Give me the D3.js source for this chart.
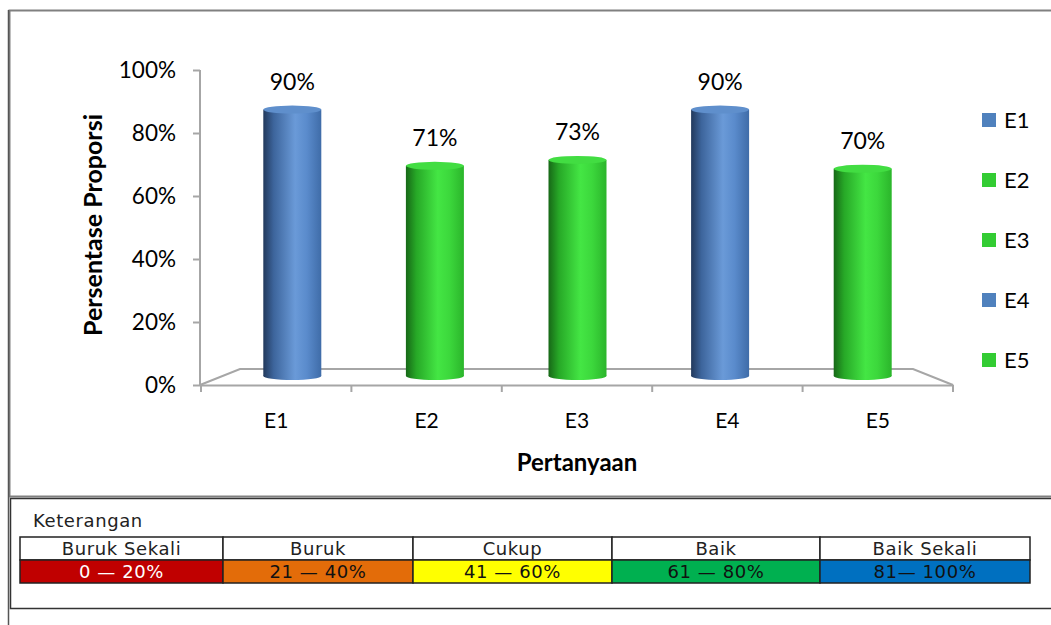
<!DOCTYPE html>
<html>
<head>
<meta charset="utf-8">
<script src="https://cdn.jsdelivr.net/npm/d3@7"></script>
<style>
  body { margin: 0; background: #fff; }
  svg { display: block; }
</style>
</head>
<body>
<svg id="chart"></svg>
<script>
// data
const categories = ['E1', 'E2', 'E3', 'E4', 'E5'];
const values = [0.90, 0.71, 0.73, 0.90, 0.70];
const valueLabels = ['90%', '71%', '73%', '90%', '70%'];
const barColors = ['blue', 'green', 'green', 'blue', 'green'];
const yTicks = [0, 0.2, 0.4, 0.6, 0.8, 1];

const ketLabels = ['Buruk Sekali', 'Buruk', 'Cukup', 'Baik', 'Baik Sekali'];
const ketRanges = ['0 \u2014 20%', '21 \u2014 40%', '41 \u2014 60%', '61 \u2014 80%', '81\u2014 100%'];
const ketColors = ['#c00000', '#e36c09', '#ffff00', '#00b050', '#0070c0'];
const ketText = ['#fff', '#111', '#111', '#111', '#111'];

// set up constants
const width = 1051;
const height = 625;
const font = 'Lato, Carlito, Calibri, sans-serif';
const ketFont = 'DejaVu Sans, sans-serif';

const svg = d3.select('#chart')
  .attr('width', width)
  .attr('height', height);

// chart box
svg.append('rect')
  .attr('x', 9.5).attr('y', 10.5)
  .attr('width', 1060).attr('height', 486)
  .attr('fill', '#fff').attr('stroke', '#808080').attr('stroke-width', 2);
svg.append('line')
  .attr('x1', 8.5).attr('x2', 8.5).attr('y1', 10).attr('y2', 625)
  .attr('stroke', '#555').attr('stroke-width', 1.5);

// scales
const yScale = d3.scaleLinear().domain([0, 1]).range([385, 70]);
const xScale = d3.scaleBand().domain(categories).range([201, 953]);
// bars sit on the back of the 3D floor
const xBack = d3.scaleBand().domain(categories).range([221, 934]);
const yBack = d3.scaleLinear().domain([0, 1]).range([376, 80]);

// gradients
const defs = svg.append('defs');
const grads = {
  blue: [['0%', '#22395c'], ['18%', '#3d659c'], ['55%', '#6a9ad8'], ['75%', '#5a8bcc'], ['100%', '#3f6ca8']],
  green: [['0%', '#176817'], ['18%', '#27a827'], ['55%', '#44e644'], ['75%', '#3cd83c'], ['100%', '#2bb52b']]
};
Object.entries(grads).forEach(([k, stops]) => {
  const g = defs.append('linearGradient').attr('id', 'g-' + k)
    .attr('x1', 0).attr('x2', 1).attr('y1', 0).attr('y2', 0);
  stops.forEach(s => g.append('stop').attr('offset', s[0]).attr('stop-color', s[1]));
});
const topColor = { blue: '#5f8fcc', green: '#42dd42' };

// floor
const gray = '#a6a6a6';
svg.append('path')
  .attr('d', `M200,${yScale(0)} L240,369 L913,369 L953,${yScale(0)}`)
  .attr('fill', 'none').attr('stroke', gray).attr('stroke-width', 2);

// axes
const yAxis = d3.axisLeft(yScale).tickValues(yTicks).tickFormat(d3.format('.0%')).tickSize(7).tickPadding(17);
const gy = svg.append('g').attr('transform', 'translate(200,0)').call(yAxis);
const xAxis = d3.axisBottom(xScale).tickSize(0).tickPadding(28);
const gx = svg.append('g').attr('transform', `translate(0,${yScale(0)})`).call(xAxis);

[gy, gx].forEach(g => {
  g.selectAll('path, line').attr('stroke', gray).attr('stroke-width', 2);
  g.selectAll('text').attr('font-family', font).attr('fill', '#000');
});
gy.selectAll('text').attr('font-size', 22.5);
gx.selectAll('text').attr('font-size', 21);
gy.select('.domain').attr('d', `M-0,${yScale(1)}V${yScale(0)}`);

// x ticks at band edges
svg.append('g').selectAll('line')
  .data(categories.concat(['end']))
  .join('line')
  .attr('x1', (d, i) => i < categories.length ? xScale(d) : xScale.range()[1])
  .attr('x2', (d, i) => i < categories.length ? xScale(d) : xScale.range()[1])
  .attr('y1', yScale(0)).attr('y2', yScale(0) + 7)
  .attr('stroke', gray).attr('stroke-width', 2);

// cylinders
const bw = 58;
const ry = 4;
const bars = svg.append('g').selectAll('g')
  .data(categories.map((c, i) => ({ c, v: values[i], label: valueLabels[i], color: barColors[i] })))
  .join('g')
  .attr('transform', d => `translate(${xBack(d.c) + xBack.bandwidth() / 2},0)`);

bars.append('ellipse')
  .attr('cx', 0).attr('cy', yBack(0)).attr('rx', bw / 2).attr('ry', ry)
  .attr('fill', d => `url(#g-${d.color})`);
bars.append('rect')
  .attr('x', -bw / 2).attr('y', d => yBack(d.v))
  .attr('width', bw).attr('height', d => yBack(0) - yBack(d.v))
  .attr('fill', d => `url(#g-${d.color})`);
bars.append('ellipse')
  .attr('cx', 0).attr('cy', d => yBack(d.v)).attr('rx', bw / 2).attr('ry', ry)
  .attr('fill', d => topColor[d.color]);
bars.append('text')
  .attr('x', 0).attr('y', d => yBack(d.v) - 20)
  .attr('text-anchor', 'middle')
  .attr('font-family', font).attr('font-size', 23).attr('fill', '#000')
  .text(d => d.label);

// axis titles
svg.append('text')
  .attr('transform', 'translate(102,225) rotate(-90)')
  .attr('text-anchor', 'middle')
  .attr('font-family', font).attr('font-size', 25).attr('font-weight', 'bold')
  .text('Persentase Proporsi');
svg.append('text')
  .attr('x', 577).attr('y', 471)
  .attr('text-anchor', 'middle')
  .attr('font-family', font).attr('font-size', 24).attr('font-weight', 'bold')
  .text('Pertanyaan');

// legend
const legend = svg.append('g').selectAll('g')
  .data(categories.map((c, i) => ({ c, color: barColors[i] })))
  .join('g')
  .attr('transform', (d, i) => `translate(982,${120 + i * 60})`);
legend.append('rect')
  .attr('x', 0).attr('y', -7).attr('width', 14).attr('height', 14)
  .attr('fill', d => d.color === 'blue' ? '#4f81bd' : '#33cc33');
legend.append('text')
  .attr('x', 22).attr('y', 8)
  .attr('font-family', font).attr('font-size', 22)
  .text(d => d.c);

// keterangan box
svg.append('rect')
  .attr('x', 10.5).attr('y', 498.5).attr('width', 1060).attr('height', 110)
  .attr('fill', '#fff').attr('stroke', '#333').attr('stroke-width', 1.5);
svg.append('text')
  .attr('x', 33).attr('y', 527)
  .attr('font-family', ketFont).attr('font-size', 18).attr('letter-spacing', 0.6).attr('fill', '#222')
  .text('Keterangan');

const colEdges = [20, 223, 413, 612, 820, 1030];
const ket = svg.append('g').selectAll('g')
  .data(ketLabels.map((l, i) => ({ l, r: ketRanges[i], c: ketColors[i], t: ketText[i], x0: colEdges[i], x1: colEdges[i + 1] })))
  .join('g');
ket.append('rect')
  .attr('x', d => d.x0).attr('y', 537).attr('width', d => d.x1 - d.x0).attr('height', 23)
  .attr('fill', '#fff').attr('stroke', '#222').attr('stroke-width', 1.5);
ket.append('rect')
  .attr('x', d => d.x0).attr('y', 560).attr('width', d => d.x1 - d.x0).attr('height', 23)
  .attr('fill', d => d.c).attr('stroke', '#222').attr('stroke-width', 1.5);
ket.append('text')
  .attr('x', d => (d.x0 + d.x1) / 2).attr('y', 555)
  .attr('text-anchor', 'middle')
  .attr('font-family', ketFont).attr('font-size', 18).attr('letter-spacing', 0.6).attr('fill', '#222')
  .text(d => d.l);
ket.append('text')
  .attr('x', d => (d.x0 + d.x1) / 2).attr('y', 578)
  .attr('text-anchor', 'middle')
  .attr('font-family', ketFont).attr('font-size', 18).attr('letter-spacing', 0.6).attr('fill', d => d.t)
  .text(d => d.r);
</script>
</body>
</html>
